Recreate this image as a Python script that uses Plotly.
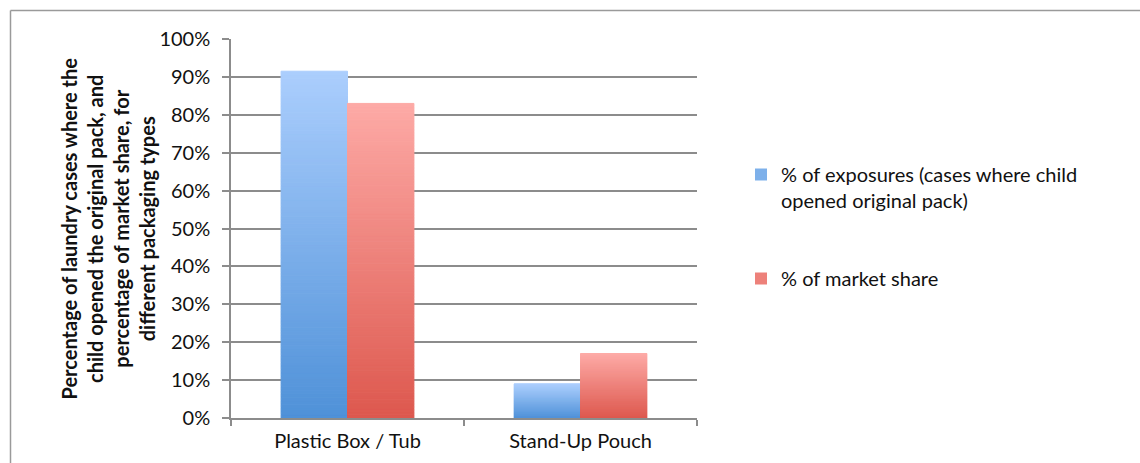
import plotly.graph_objects as go

categories = ["Plastic Box / Tub", "Stand-Up Pouch"]
exposures = [91.5, 9.0]
market_share = [83.0, 17.0]
series_names = ["% of exposures (cases where child<br>opened original pack)", "% of market share"]
y_tick_vals = [0, 10, 20, 30, 40, 50, 60, 70, 80, 90, 100]
y_tick_text = [f"{v}%" for v in y_tick_vals]
y_title = ("Percentage of laundry cases where the<br>child opened the original pack, and<br>"
           "percentage of market share, for<br>different packaging types")

FONT = "Lato"
TXT = "#111111"
BLUE_TOP, BLUE_BOT = (171, 206, 253), (79, 145, 216)
RED_TOP, RED_BOT = (253, 170, 166), (221, 88, 78)
N = 100

W, H = 1140, 463
L, R, T, B = 231, 1140 - 697, 39, 463 - 418
PW, PH = W - L - R, H - T - B


def mix(c1, c2, t):
    return "rgb(%d,%d,%d)" % tuple(round(a + (b - a) * t) for a, b in zip(c1, c2))


fig = go.Figure()
for sidx, (vals, top, bot, name) in enumerate([
        (exposures, BLUE_TOP, BLUE_BOT, series_names[0]),
        (market_share, RED_TOP, RED_BOT, series_names[1])]):
    for i in range(N):
        t = (i + 0.5) / N
        col = mix(bot, top, t)
        fig.add_trace(go.Bar(
            x=categories,
            y=[v / N for v in vals],
            base=[v * i / N for v in vals],
            offsetgroup=str(sidx),
            marker=dict(color=col, line=dict(color=col, width=1)),
            name=name,
            legendgroup=str(sidx),
            showlegend=False,
            hoverinfo="skip",
        ))
    # legend entry
    fig.add_trace(go.Bar(
        x=[categories[0]], y=[0], base=[0],
        offsetgroup=str(sidx),
        marker=dict(color=mix(bot, top, 0.5), line=dict(width=0)),
        name=name, legendgroup=str(sidx), showlegend=True,
        hoverinfo="skip",
    ))

fig.update_layout(
    width=W, height=H,
    margin=dict(l=L, r=R, t=T, b=B, autoexpand=False),
    paper_bgcolor="white", plot_bgcolor="white",
    barmode="group", bargap=0.43, bargroupgap=0,
    font=dict(family=FONT, size=20, color=TXT),
    showlegend=True,
    legend=dict(
        x=(741 - L) / PW, xanchor="left",
        y=1 - (155 - T) / PH, yanchor="top",
        traceorder="grouped", tracegroupgap=49,
        valign="top",
        font=dict(family=FONT, size=20, color=TXT),
        itemwidth=30, bgcolor="rgba(0,0,0,0)",
    ),
    xaxis=dict(
        showline=True, linecolor="#8c8c8c", linewidth=1.5,
        ticks="outside", tickson="boundaries", ticklen=6, tickcolor="#8c8c8c", tickwidth=1.5,
        ticklabelstandoff=4,
        showgrid=False, tickfont=dict(family=FONT, size=20, color=TXT),
    ),
    yaxis=dict(
        range=[0, 100], tickvals=y_tick_vals, ticktext=y_tick_text,
        showline=True, linecolor="#8c8c8c", linewidth=1.5,
        ticks="outside", ticklen=7, tickcolor="#8c8c8c", tickwidth=1.5,
        ticklabelstandoff=8,
        showgrid=True, gridcolor="#8c8c8c", gridwidth=1.5,
        zeroline=False, tickfont=dict(family=FONT, size=20, color=TXT),
    ),
    annotations=[dict(
        text="<b>" + y_title + "</b>", textangle=-90,
        xref="paper", yref="paper",
        x=(107 - L) / PW, y=0.5, xanchor="center", yanchor="middle",
        showarrow=False, font=dict(family=FONT, size=20, color=TXT),
    )],
    shapes=[
        dict(type="line", xref="paper", yref="paper",
             x0=(10.5 - L) / PW, x1=(10.5 - L) / PW,
             y0=1 + (T - 10.5) / PH, y1=-0.3,
             line=dict(color="#9a9a9a", width=1.5)),
        dict(type="line", xref="paper", yref="paper",
             x0=(10.5 - L) / PW, x1=(1145 - L) / PW,
             y0=1 + (T - 10.5) / PH, y1=1 + (T - 10.5) / PH,
             line=dict(color="#9a9a9a", width=1.5)),
    ],
)

fig.write_html("out.html")
